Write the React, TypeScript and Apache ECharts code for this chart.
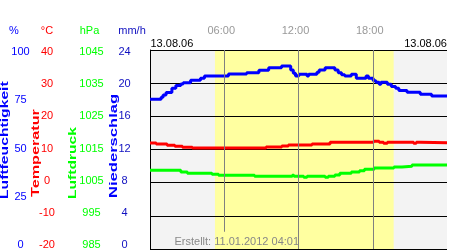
import React, { useEffect, useRef } from 'react';
import * as echarts from 'echarts';

// time axis (hours of 13.08.06)
const timeTicks = [6, 12, 18];
const timeLabels = ['06:00', '12:00', '18:00'];

// left-hand tick labels (bottom to top)
const humidityTicks = ['0', '25', '50', '75', '100'];
const temperatureTicks = ['-20', '-10', '0', '10', '20', '30', '40'];
const pressureTicks = ['985', '995', '1005', '1015', '1025', '1035', '1045'];
const rainTicks = ['0', '4', '8', '12', '16', '20', '24'];

// daylight period (hours)
const sunrise = 5.25;
const sunset = 19.69;

// Luftfeuchtigkeit (%)
const humTimes = [0, 0.9, 1.06, 1.3, 1.77, 2.09, 2.49, 2.68, 3.28, 4.08, 4.4, 6.34, 7.81, 8.8, 9.59, 10.63, 11.37, 11.58, 11.76, 12.03, 12.69, 12.82, 13.49, 13.67, 14.15, 14.94, 15.21, 15.48, 15.74, 16.27, 16.67, 17.46, 17.65, 18.04, 18.26, 18.52, 18.66, 19.18, 19.5, 19.85, 20.11, 20.77, 21.84, 22.76, 24];
const humVals = [75.2, 76.2, 77.4, 78.7, 80.8, 82.1, 82.9, 83.6, 84.8, 85.8, 86.9, 87.9, 88.6, 89.8, 91.1, 91.9, 89.9, 88.3, 86.9, 87.8, 86.9, 87.8, 88.8, 90.0, 91.1, 90.0, 88.6, 87.6, 86.9, 87.8, 85.8, 86.9, 85.8, 84.6, 83.8, 82.8, 83.8, 82.8, 81.6, 80.8, 79.6, 78.8, 77.8, 76.9, 76.9];

// Temperatur (°C)
const tempTimes = [0, 0.5, 1.38, 2.01, 2.62, 3.42, 9.38, 10.65, 11.18, 13.09, 14.55, 18.07, 18.52, 18.87, 19.18, 21.3, 21.52, 21.84, 24];
const tempVals = [11.96, 11.66, 11.27, 10.97, 10.67, 10.45, 10.75, 11.06, 11.36, 11.66, 12.17, 12.47, 12.17, 11.87, 12.17, 11.87, 12.17, 12.05, 12.05];

// Luftdruck (hPa)
const presTimes = [0, 2.49, 3.02, 5.01, 5.54, 8.45, 11.5, 11.63, 12.42, 12.69, 14.15, 14.41, 14.94, 15.34, 16.27, 16.93, 17.33, 18.12, 19.71, 20.37, 21.17, 24];
const presVals = [1008.72, 1008.22, 1007.82, 1007.52, 1007.22, 1006.92, 1007.22, 1006.92, 1006.62, 1006.92, 1006.62, 1006.92, 1007.31, 1007.82, 1008.22, 1008.6, 1009.03, 1009.42, 1009.72, 1009.93, 1010.33, 1010.33];

const FONT = '"Liberation Sans", Arial, sans-serif';

const zip = (t: number[], v: number[]) => t.map((x, i) => [x, v[i]]);

const labelAxis = (data: string[], color: string, margin: number) => ({
  gridIndex: 1,
  type: 'category',
  position: 'left',
  offset: 0,
  data,
  boundaryGap: false,
  axisLine: { show: false },
  axisTick: { show: false },
  splitLine: { show: false },
  axisLabel: {
    interval: 0,
    color,
    fontSize: 11,
    fontFamily: FONT,
    align: 'center',
    verticalAlign: 'middle',
    margin,
  },
});

const txt = (text: string, x: number, y: number, fill: string, align: string, font = `11px ${FONT}`) => ({
  type: 'text',
  x,
  y,
  z: 20,
  silent: true,
  style: { text, fill, font, align, textAlign: align, verticalAlign: 'middle', textVerticalAlign: 'middle' },
});

const vtxt = (text: string, x: number, y: number, fill: string, scale: number) => ({
  type: 'text',
  x,
  y,
  z: 20,
  rotation: Math.PI / 2,
  scaleX: scale,
  silent: true,
  style: {
    text,
    fill,
    font: `bold 10px ${FONT}`,
    align: 'left',
    textAlign: 'left',
    verticalAlign: 'middle',
    textVerticalAlign: 'middle',
  },
});

export default function App() {
  const ref = useRef<HTMLDivElement>(null);

  useEffect(() => {
    document.body.style.margin = '0';
    const chart = echarts.init(ref.current!, null, { renderer: 'svg' });
    const option: any = {
      animation: false,
      textStyle: { fontFamily: FONT },
      grid: [
        { left: 150, top: 50, width: 302, height: 199, show: true, backgroundColor: '#f3f3f3', borderWidth: 0 },
        { left: 150, top: 51, width: 302, height: 193, show: false },
      ],
      xAxis: [
        {
          gridIndex: 0,
          type: 'value',
          min: 0,
          max: 24,
          interval: 6,
          position: 'top',
          axisLine: { show: false },
          axisTick: { show: false },
          splitLine: { show: false },
          axisLabel: {
            color: '#999999',
            fontSize: 11,
            fontFamily: FONT,
            verticalAlign: 'middle',
            margin: 20,
            padding: [0, 6, 0, 0],
            formatter: (v: number) => {
              const i = timeTicks.indexOf(v);
              return i >= 0 ? timeLabels[i] : '';
            },
          },
        },
        { gridIndex: 1, type: 'value', min: 0, max: 24, show: false },
      ],
      yAxis: [
        {
          gridIndex: 0,
          type: 'value',
          position: 'left',
          min: -20,
          max: 40,
          interval: 10,
          z: 2,
          axisLine: { show: true, lineStyle: { color: '#000', width: 1 } },
          axisTick: { show: false },
          axisLabel: { show: false },
          splitLine: { show: true, lineStyle: { color: '#000', width: 1 } },
        },
        { gridIndex: 0, type: 'value', position: 'left', min: 0, max: 100, show: false, splitLine: { show: false } },
        { gridIndex: 0, type: 'value', position: 'left', min: 985, max: 1045, show: false, splitLine: { show: false } },
        labelAxis(humidityTicks, '#0000ff', 129.5),
        labelAxis(temperatureTicks, '#ff0000', 103),
        labelAxis(pressureTicks, '#00ff00', 58.5),
        labelAxis(rainTicks, '#1010c0', 25.5),
      ],
      series: [
        {
          type: 'line',
          xAxisIndex: 0,
          yAxisIndex: 0,
          data: [],
          z: 1,
          silent: true,
          markArea: {
            silent: true,
            itemStyle: { color: '#ffffa0' },
            data: [[{ xAxis: sunrise }, { xAxis: sunset }]],
          },
        },
        {
          type: 'line',
          xAxisIndex: 0,
          yAxisIndex: 0,
          data: [],
          z: 2,
          silent: true,
          markLine: {
            silent: true,
            symbol: 'none',
            label: { show: false },
            lineStyle: { color: '#808080', width: 1, type: 'solid' },
            data: [
              [{ coord: [timeTicks[0], 40] }, { coord: [timeTicks[0], -14.8] }],
              [{ coord: [timeTicks[1], 40] }, { coord: [timeTicks[1], -20] }],
              [{ coord: [timeTicks[2], 40] }, { coord: [timeTicks[2], -20] }],
            ],
          },
        },
        {
          name: 'Luftfeuchtigkeit',
          type: 'line',
          xAxisIndex: 0,
          yAxisIndex: 1,
          step: 'end',
          showSymbol: false,
          z: 3,
          lineStyle: { color: '#0000ff', width: 3 },
          data: zip(humTimes, humVals),
        },
        {
          name: 'Temperatur',
          type: 'line',
          xAxisIndex: 0,
          yAxisIndex: 0,
          step: 'end',
          showSymbol: false,
          z: 3,
          lineStyle: { color: '#ff0000', width: 3 },
          data: zip(tempTimes, tempVals),
        },
        {
          name: 'Luftdruck',
          type: 'line',
          xAxisIndex: 0,
          yAxisIndex: 2,
          step: 'end',
          showSymbol: false,
          z: 3,
          lineStyle: { color: '#00ff00', width: 3 },
          data: zip(presTimes, presVals),
        },
      ],
      graphic: [
        txt('%', 14, 30, '#0000ff', 'center'),
        txt('°C', 47, 30, '#ff0000', 'center'),
        txt('hPa', 89.5, 30, '#00ff00', 'center'),
        txt('mm/h', 132, 30, '#1010c0', 'center'),
        txt('13.08.06', 150.5, 43, '#000000', 'left'),
        txt('13.08.06', 447, 43, '#000000', 'right'),
        txt('Erstellt: 11.01.2012 04:01', 174.5, 241, '#888888', 'left'),
        vtxt('Luftfeuchtigkeit', 5, 199, '#0000ff', 1.57),
        vtxt('Temperatur', 36, 197, '#ff0000', 1.62),
        vtxt('Luftdruck', 72.5, 199, '#00ff00', 1.56),
        vtxt('Niederschlag', 114, 198, '#0000ff', 1.66),
      ],
    };
    chart.setOption(option);
    return () => chart.dispose();
  }, []);

  return <div ref={ref} style={{ position: 'fixed', left: 0, top: 0, width: 450, height: 250 }} />;
}
